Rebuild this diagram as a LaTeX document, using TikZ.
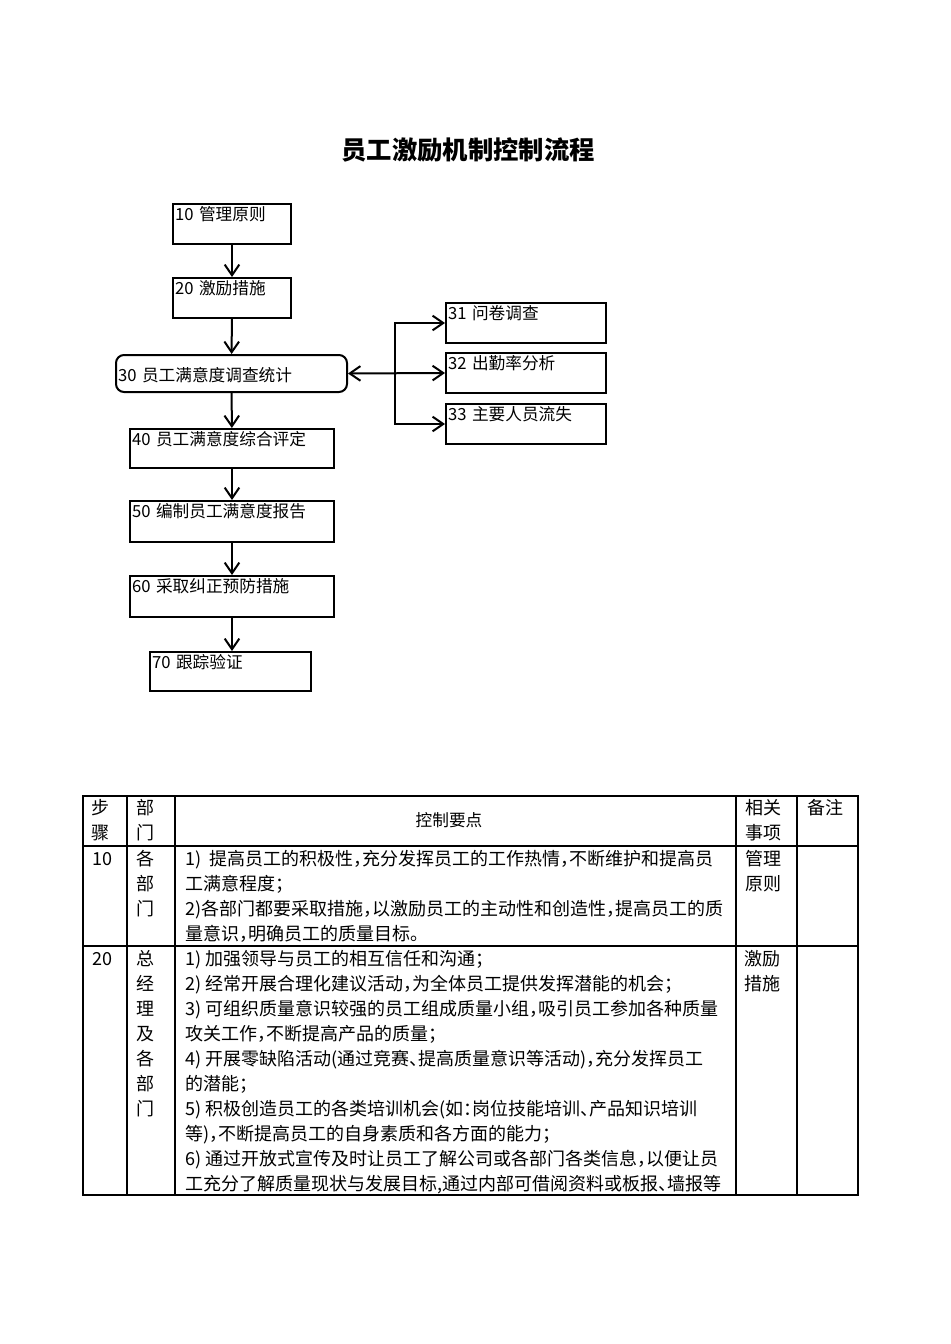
\documentclass[tikz,border=0pt]{standalone}
\usepackage{fontspec}
\setmainfont{Noto Sans CJK SC}
\usepackage{tikz}
\usetikzlibrary{arrows.meta}

\newcommand{\flowfont}{\fontsize{12.5}{15}\selectfont}
\newcommand{\tabfont}{\fontsize{13.5}{18.75}\selectfont\addfontfeature{RawFeature=+halt}}

\tikzset{
  stepbox/.style 2 args={draw, line width=1.5pt, inner sep=1.5pt, anchor=north west,
    align=left, font=\flowfont, text width=#1, text height=11pt, text depth=#2},
  flow/.style={line width=1.5pt, -{Straight Barb[length=8pt,width=11pt]}},
  cell/.style={inner sep=0pt, anchor=north west, align=left, font=\tabfont},
  grid/.style={line width=0.8pt}
}

\begin{document}
\begin{tikzpicture}[x=0.75pt, y=-0.75pt]
  \useasboundingbox (0,0) rectangle (950,1344);

  \node[font=\fontsize{19}{23}\selectfont\bfseries] (title) at (468,150) {员工激励机制控制流程};

  % Flujo
  \begin{scope}
    \node[stepbox={85.5pt}{16pt}] (b10) at (172,203) {10 管理原则};
    \node[stepbox={85.5pt}{16pt}] (b20) at (172,277) {20 激励措施};
    \node[stepbox={170.25pt}{6.75pt}, text height=18pt, rounded corners=6pt] (b30) at (115,354) {30 员工满意度调查统计};
    \node[stepbox={150pt}{15.25pt}] (b40) at (129,428) {40 员工满意度综合评定};
    \node[stepbox={150pt}{16.75pt}] (b50) at (129,500) {50 编制员工满意度报告};
    \node[stepbox={150pt}{16.75pt}] (b60) at (129,575) {60 采取纠正预防措施};
    \node[stepbox={117.75pt}{15.25pt}] (b70) at (149,651) {70 跟踪验证};

    \node[stepbox={117pt}{16pt}] (b31) at (445,302) {31 问卷调查};
    \node[stepbox={117pt}{16pt}] (b32) at (445,352) {32 出勤率分析};
    \node[stepbox={117pt}{16pt}] (b33) at (445,403) {33 主要人员流失};

    \draw[flow] (b10) -- (b20);
    \draw[flow] (b20) -- (b30);
    \draw[flow] (b30) -- (b40);
    \draw[flow] (b40) -- (b50);
    \draw[flow] (b50) -- (b60);
    \draw[flow] (b60.south) -- (b60.south |- b70.north);

    \coordinate (fork) at (395,372);
    \draw[flow, {Straight Barb[length=8pt,width=11pt]}-{Straight Barb[length=8pt,width=11pt]}] (b30.east) -- (b32.west);
    \draw[flow] (fork) |- (b31.west);
    \draw[flow] (fork) |- (b33.west);
  \end{scope}

  % Tabla
  \begin{scope}
    \draw[grid] (83,796) rectangle (858,1195);
    \foreach \x in {127,175,736,797}
      \draw[grid] (\x,796) -- (\x,1195);
    \foreach \y in {846,946}
      \draw[grid] (83,\y) -- (858,\y);

    \node[cell] (hstep) at (91,799) {步\\骤};
    \node[cell] (hdept) at (136,799) {部\\门};
    \node[cell, anchor=center, font=\fontsize{12.5}{15}\selectfont] (hkey) at (449,820) {控制要点};
    \node[cell] (hrel) at (745,799) {相关\\事项};
    \node[cell] (hnote) at (807,799) {备注};

    \node[cell] (s10) at (92,852) {10};
    \node[cell] (d10) at (136,850) {各\\部\\门};
    \node[cell] (k10) at (185,850) {1)\ \ 提高员工的积极性，充分发挥员工的工作热情，不断维护和提高员\\
      工满意程度；\\
      2)各部门都要采取措施，以激励员工的主动性和创造性，提高员工的质\\
      量意识，明确员工的质量目标。};
    \node[cell] (r10) at (745,850) {管理\\原则};

    \node[cell] (s20) at (92,952) {20};
    \node[cell] (d20) at (136,950) {总\\经\\理\\及\\各\\部\\门};
    \node[cell] (k20) at (185,950) {1) 加强领导与员工的相互信任和沟通；\\
      2) 经常开展合理化建议活动，为全体员工提供发挥潜能的机会；\\
      3) 可组织质量意识较强的员工组成质量小组，吸引员工参加各种质量\\
      攻关工作，不断提高产品的质量；\\
      4) 开展零缺陷活动(通过竞赛、提高质量意识等活动)，充分发挥员工\\
      的潜能；\\
      5) 积极创造员工的各类培训机会(如：岗位技能培训、产品知识培训\\
      等)，不断提高员工的自身素质和各方面的能力；\\
      6) 通过开放式宣传及时让员工了解公司或各部门各类信息，以便让员\\
      工充分了解质量现状与发展目标,通过内部可借阅资料或板报、墙报等};
    \node[cell] (r20) at (744,950) {激励\\措施};
  \end{scope}
\end{tikzpicture}
\end{document}
